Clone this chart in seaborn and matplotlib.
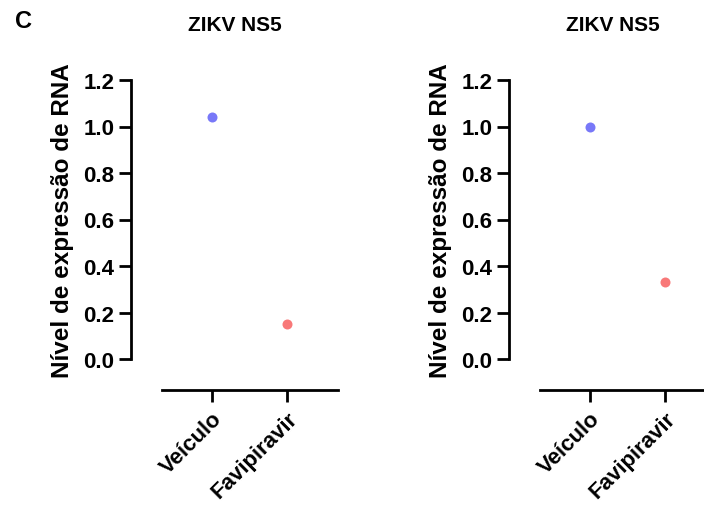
import matplotlib
matplotlib.use("Agg")
import matplotlib.pyplot as plt
import seaborn as sns
import pandas as pd

# ---- data ----
categories = ["Veículo", "Favipiravir"]
panel1_values = [1.04, 0.15]
panel2_values = [1.00, 0.33]
titles = ["ZIKV NS5", "ZIKV NS5"]
y_ticks = [0.0, 0.2, 0.4, 0.6, 0.8, 1.0, 1.2]
y_label = "Nível de expressão de RNA"
panel_letter = "C"
colors = ["#7878F8", "#F87878"]

sns.set_theme(style="ticks")
plt.rcParams['font.family'] = ['Liberation Sans', 'DejaVu Sans']
plt.rcParams['font.weight'] = 'bold'
plt.rcParams['text.color'] = 'black'
plt.rcParams['axes.labelcolor'] = 'black'
plt.rcParams['xtick.color'] = 'black'
plt.rcParams['ytick.color'] = 'black'

W, H = 704, 506
fig = plt.figure(figsize=(W / 100, H / 100), dpi=100)

lw = 2.0
axes_px = [(131, 81, 207, 279), (509, 81, 207, 279)]

for (x0, y0, w, h), vals, title in zip(axes_px, [panel1_values, panel2_values], titles):
    ax = fig.add_axes([x0 / W, 1 - (y0 + h) / H, w / W, h / H])
    df = pd.DataFrame({"grupo": categories, "valor": vals})
    sns.stripplot(data=df, x="grupo", y="valor", hue="grupo", palette=colors,
                  jitter=False, size=7.2, linewidth=0, ax=ax, legend=False,
                  clip_on=False, zorder=3)
    ax.set_xlim(-1.08, 1.68)
    ax.set_ylim(0, 1.2)
    for s in ["top", "right"]:
        ax.spines[s].set_visible(False)
    for s in ["left", "bottom"]:
        ax.spines[s].set_linewidth(lw)
        ax.spines[s].set_color("black")
    ax.spines["bottom"].set_position(("outward", 31 * 0.72))
    ax.spines["bottom"].set_bounds(-0.667, 1.68)
    ax.spines["left"].set_bounds(0, 1.2)
    ax.tick_params(axis="both", length=8.5, width=lw, color="black", labelcolor="black")
    ax.tick_params(axis="y", pad=3.5)
    ax.tick_params(axis="x", pad=4.5)

    ax.set_yticks(y_ticks)
    ax.set_yticklabels([f"{t:.1f}" for t in y_ticks])
    ax.set_xticks([0, 1])
    ax.set_xticklabels(categories)
    for lab in ax.get_yticklabels():
        lab.set_fontsize(16)
        lab.set_fontweight('bold')
    for lab in ax.get_xticklabels():
        lab.set_fontsize(16)
        lab.set_fontweight('bold')
        lab.set_rotation(45)
        lab.set_ha('right')
        lab.set_va('top')
        lab.set_rotation_mode('anchor')
    ax.set_xlabel("")
    ax.set_ylabel(y_label, fontsize=17.5, fontweight='bold', labelpad=7)
    ax.set_title(title, fontsize=15, fontweight='bold', pad=36, color='black')

fig.text(24 / W, 1 - 22 / H, panel_letter, fontsize=17, fontweight='bold',
         ha='center', va='center', color='black')

fig.savefig("out.png", dpi=100)
